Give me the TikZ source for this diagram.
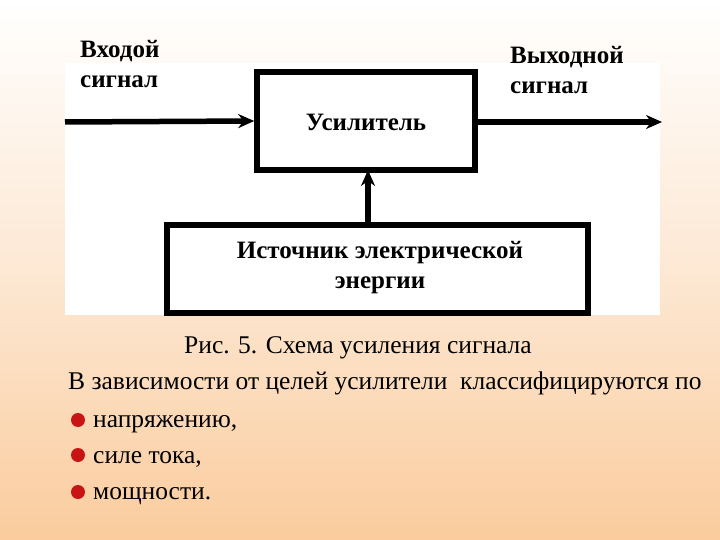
\documentclass[tikz,border=0pt]{standalone}
\usepackage{fontspec}
\setmainfont{Liberation Serif}
\usetikzlibrary{arrows.meta}
\definecolor{peach}{RGB}{250,204,158}
\definecolor{bulletred}{RGB}{200,20,20}
\begin{document}
\begin{tikzpicture}[x=1pt,y=-1pt,
  blk/.style={draw,line width=5.5pt,inner sep=0pt},
  lbl/.style={font=\bfseries\fontsize{25}{30}\selectfont,align=left,inner sep=0pt},
  sig/.style={line width=5.5pt,-{Stealth[length=16pt,width=14pt]}},
  body/.style={font=\fontsize{25.5}{24}\selectfont,inner sep=0pt,anchor=west}]
\shade[top color=white,bottom color=peach,middle color=peach!45] (0,0) rectangle (720,540);
\useasboundingbox (0,0) rectangle (720,540);
\fill[white] (65,63) rectangle (660,315);
\node[blk,minimum width=218pt,minimum height=98pt] (amp) at (366,121) {};
\node[lbl] at (366,122) {Усилитель};
\node[blk,minimum width=421pt,minimum height=88pt] (src) at (377.5,269) {};
\node[lbl,align=center] at (380,268) {Источник электрической\\энергии};
\coordinate (in) at (65,122);
\coordinate (out) at (662,122);
\coordinate (vtop) at (368,170);
\draw[sig] (in) -- (amp.west);
\draw[sig] (amp.east |- out) -- (out);
\draw[sig] (src.north -| vtop) -- (vtop);
\node[lbl,anchor=north west] at (80,40) {Входой\\сигнал};
\node[lbl,anchor=north west] at (510,46) {Выходной\\сигнал};
\node[font=\fontsize{25.5}{24}\selectfont,inner sep=0pt] (cap) at (358,348) {Рис. 5. Схема усиления сигнала};
\node[body] (t0) at (68,383) {В зависимости от целей усилители\ \ классифицируются по};
\foreach \y/\t [count=\i] in {424/{напряжению,},459/{силе тока,},496/{мощности.}}{
  \fill[bulletred] (78,\y-4) circle (7pt);
  \node[body] (b\i) at (93,\y) {\t};
}
\end{tikzpicture}
\end{document}
